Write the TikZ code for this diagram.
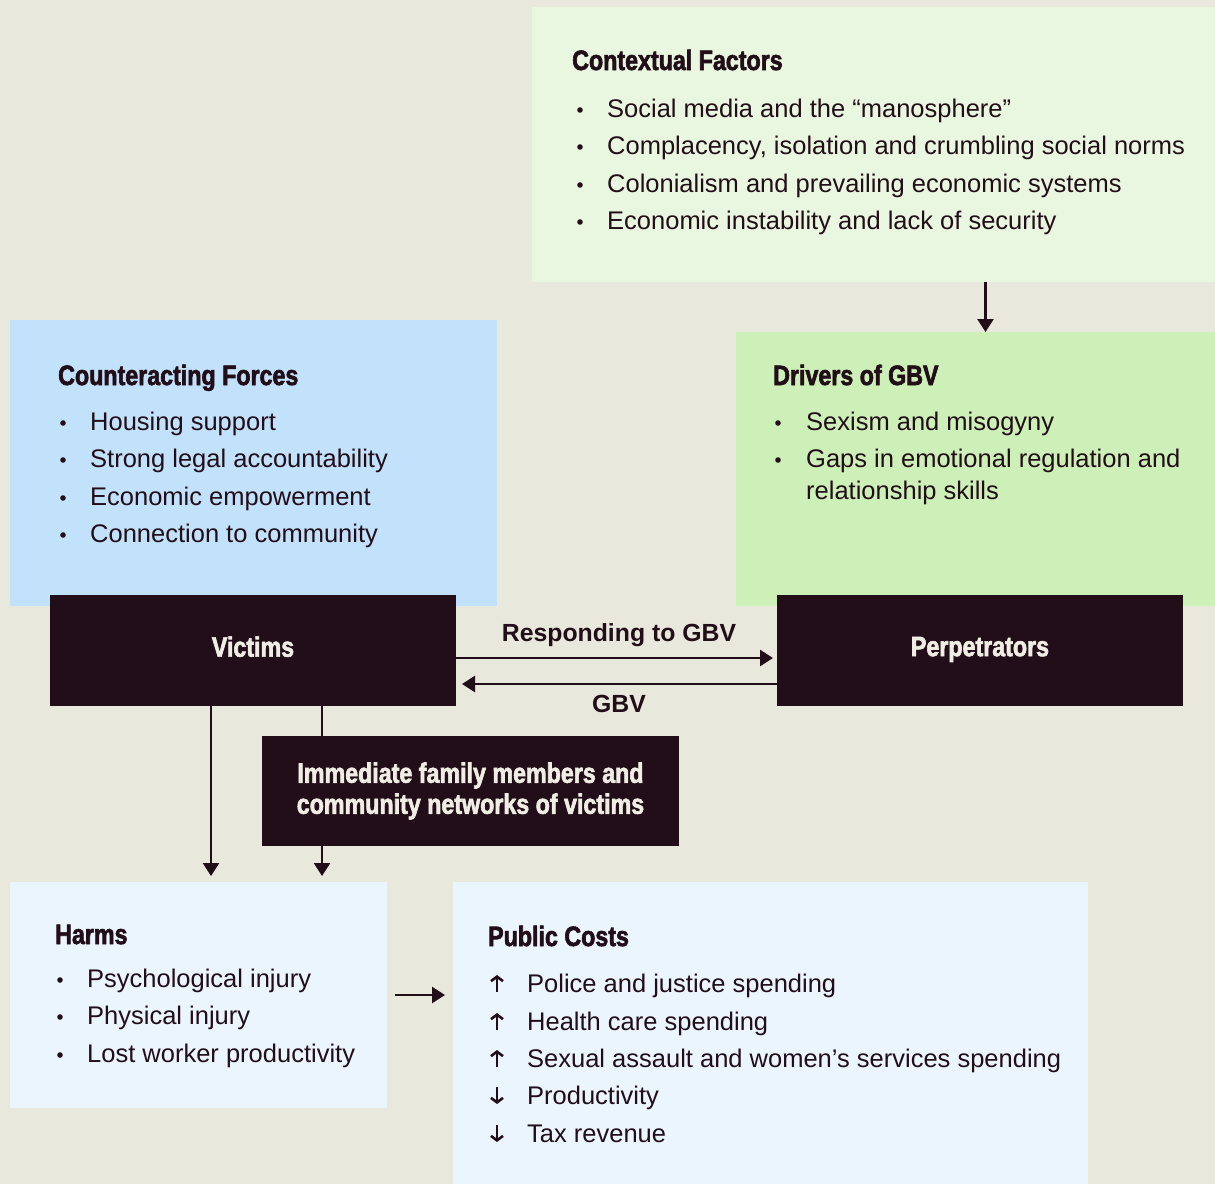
\documentclass[tikz,border=0pt]{standalone}
\usepackage{fontspec}
\setmainfont{Liberation Sans}
\newfontfamily\headfont[FakeStretch=0.83,FakeBold=2.2]{Liberation Sans}
\usetikzlibrary{arrows.meta}
\definecolor{paper}{HTML}{E9E8DD}
\definecolor{ink}{HTML}{220E18}
\definecolor{light}{HTML}{EFEDE4}
\definecolor{ctxgreen}{HTML}{EAF7E0}
\definecolor{drvgreen}{HTML}{CDEFB8}
\definecolor{cntblue}{HTML}{C2E1FB}
\definecolor{palblue}{HTML}{EBF5FD}
\tikzset{
  box/.style={inner sep=0pt, outer sep=0pt, anchor=north west},
  head/.style={anchor=base west, inner sep=0pt, text=ink, font=\headfont\bfseries\fontsize{28}{32}\selectfont},
  item/.style={anchor=base west, inner sep=0pt, text=ink, font=\fontsize{25.5}{30}\selectfont},
  actor/.style={box, fill=ink, text=light, align=center, font=\headfont\bfseries\fontsize{28}{31}\selectfont},
  flow/.style={draw=ink, line width=2.6pt, -{Triangle[length=13pt,width=16pt]}},
  updown/.style={draw=ink, line width=2.6pt, -{Straight Barb[length=4.5pt,width=12pt]}},
  tag/.style={inner sep=0pt, text=ink, font=\bfseries\fontsize{24.8}{28}\selectfont}
}
\begin{document}
\begin{tikzpicture}[x=1pt,y=-1pt]
\fill[paper] (0,0) rectangle (1215,1184);
\useasboundingbox (0,0) rectangle (1215,1184);

\node[box, fill=ctxgreen, minimum width=683pt, minimum height=275pt] (context) at (532,7) {};
\node[box, fill=drvgreen, minimum width=479pt, minimum height=274pt] (drivers) at (736,332) {};
\node[box, fill=cntblue, minimum width=487pt, minimum height=286pt] (counter) at (10,320) {};
\node[box, fill=palblue, minimum width=377pt, minimum height=226pt] (harms) at (10,882) {};
\node[box, fill=palblue, minimum width=635pt, minimum height=302pt] (public) at (453,882) {};

\node[head] (contexthead) at (572,70) {Contextual Factors};
\foreach \y/\t [count=\i] in {117/Social media and the “manosphere”, 154/{Complacency, isolation and crumbling social norms}, 192/Colonialism and prevailing economic systems, 229/Economic instability and lack of security}{
  \fill[ink] (580,\y-7) circle (2.8pt);
  \node[item] (ctxitem\i) at (607,\y) {\t};
}

\node[head] (counterhead) at (58,385) {Counteracting Forces};
\foreach \y/\t [count=\i] in {430/Housing support, 467/Strong legal accountability, 505/Economic empowerment, 542/Connection to community}{
  \fill[ink] (63,\y-7) circle (2.8pt);
  \node[item] (cntitem\i) at (90,\y) {\t};
}

\node[head] (drivershead) at (773,385) {Drivers of GBV};
\fill[ink] (778,423) circle (2.8pt);
\node[item] (drvitem1) at (806,430) {Sexism and misogyny};
\fill[ink] (778,460) circle (2.8pt);
\node[item] (drvitem2) at (806,467) {Gaps in emotional regulation and};
\node[item] (drvitem3) at (806,499) {relationship skills};

\node[head] (harmshead) at (55,944) {Harms};
\foreach \y/\t [count=\i] in {987/Psychological injury, 1024/Physical injury, 1062/Lost worker productivity}{
  \fill[ink] (60,\y-7) circle (2.8pt);
  \node[item] (harmitem\i) at (87,\y) {\t};
}

\node[head] (publichead) at (488,946) {Public Costs};
\foreach \y/\t [count=\i] in {992/Police and justice spending, 1030/Health care spending, 1067/Sexual assault and women’s services spending, 1104/Productivity, 1142/Tax revenue}
  \node[item] (costitem\i) at (527,\y) {\t};
\foreach \y in {992,1030,1067}
  \draw[updown] (497,\y) -- (497,\y-17);
\foreach \y in {1104,1142}
  \draw[updown] (497,\y-17) -- (497,\y);

\node[actor, text depth=8pt, minimum width=406pt, minimum height=111pt] (victims) at (50,595) {Victims};
\node[actor, text depth=8pt, minimum width=406pt, minimum height=111pt] (perps) at (777,595) {Perpetrators};

\draw[flow] ([xshift=10pt]drivers.north |- context.south) -- ([xshift=10pt]drivers.north);
\draw[flow, shorten >=4pt] ([yshift=-7.5pt]victims.east) -- ([yshift=-7.5pt]perps.west);
\draw[flow, shorten >=6pt] ([yshift=-33.5pt]perps.west) -- ([yshift=-33.5pt]victims.east);
\node[tag] (resp) at (619,635) {Responding to GBV};
\node[tag] (gbv) at (619,704) {GBV};

\draw[flow, shorten >=6pt] ([xshift=-42pt]victims.south) -- ([xshift=-42pt]victims.south |- harms.north);
\draw[flow, shorten >=6pt] ([xshift=69pt]victims.south) -- ([xshift=69pt]victims.south |- harms.north);
\node[actor, minimum width=417pt, minimum height=110pt] (family) at (262,736) {Immediate family members and\\community networks of victims};

\draw[flow, shorten <=8pt, shorten >=8pt] (harms.east) -- (harms.east -| public.west);
\end{tikzpicture}
\end{document}
